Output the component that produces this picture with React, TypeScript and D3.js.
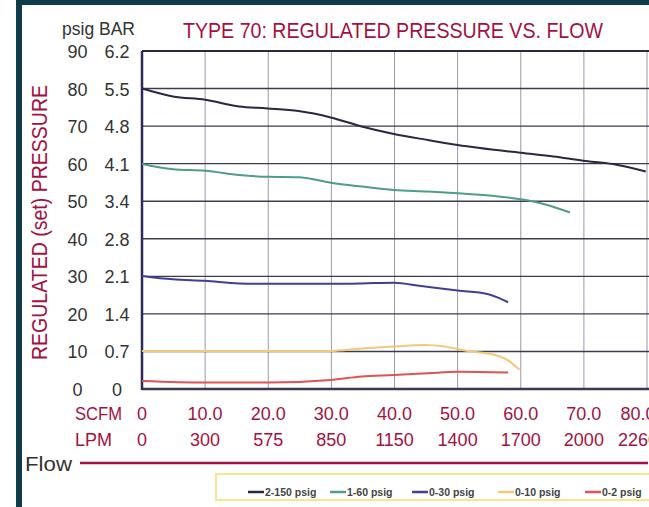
import React from 'react';
import * as d3 from 'd3';

// axis ticks
const psigTicks = [0, 10, 20, 30, 40, 50, 60, 70, 80, 90];
const barTicks = ['0', '0.7', '1.4', '2.1', '2.8', '3.4', '4.1', '4.8', '5.5', '6.2'];
const scfmTicks = [0, 10, 20, 30, 40, 50, 60, 70, 80];
const scfmLabels = ['0', '10.0', '20.0', '30.0', '40.0', '50.0', '60.0', '70.0', '80.0'];
const lpmLabels = ['0', '300', '575', '850', '1150', '1400', '1700', '2000', '2260'];

// series: [scfm, psig]
const s2150: [number, number][] = [
  [0, 80], [4.9, 77.9], [10, 77.0], [15.4, 75.2], [19.9, 74.7], [24.8, 74.0], [29.9, 72.3],
  [34.8, 69.9], [39.9, 67.9], [45.3, 66.3], [50, 65.0], [60, 62.9], [65.2, 61.9],
  [69.9, 60.8], [74.6, 59.9], [79.8, 57.9],
];
const s160: [number, number][] = [
  [0, 59.9], [4.9, 58.5], [10, 58.1], [15.4, 57.0], [19.9, 56.5], [24.8, 56.4], [29.9, 54.9],
  [34.8, 53.9], [39.9, 53.0], [45.3, 52.6], [50, 52.1], [55.8, 51.4], [60, 50.5],
  [64.2, 49.0], [67.8, 47.0],
];
const s030: [number, number][] = [
  [0, 30.1], [4.9, 29.2], [10, 28.8], [15.4, 28.1], [19.9, 28.0], [29.9, 28.0], [34.8, 28.1],
  [39.9, 28.3], [44.2, 27.4], [50, 26.2], [54.7, 25.3], [56.3, 24.4], [58.0, 23.1],
];
const s010: [number, number][] = [
  [0, 10.1], [29.9, 10.1], [34.8, 10.8], [39.9, 11.3], [44.8, 11.7], [47.9, 11.3],
  [51.6, 10.1], [55.8, 9.1], [58.1, 7.5], [59.8, 5.1],
];
const s02: [number, number][] = [
  [0, 2.1], [10, 1.7], [19.9, 1.7], [29.9, 2.4], [34.8, 3.3], [39.9, 3.7], [45.3, 4.2],
  [50, 4.6], [58.0, 4.4],
];

const seriesNames = ['2-150 psig', '1-60 psig', '0-30 psig', '0-10 psig', '0-2 psig'];
const seriesData = [s2150, s160, s030, s010, s02];
const seriesColors = ['#2b2642', '#4f9c8c', '#3f3f98', '#f2c87a', '#e25252'];

const crimson = '#a3123f';
const font = '"Liberation Sans", Arial, sans-serif';

export default function App() {
  const x = d3.scaleLinear().domain([0, 80]).range([142, 647]);
  const y = d3.scaleLinear().domain([0, 90]).range([389, 51]);
  const line = d3
    .line<[number, number]>()
    .x(d => x(d[0]))
    .y(d => y(d[1]))
    .curve(d3.curveMonotoneX);

  const legendX = [248, 330, 412, 498, 585];
  const last = scfmTicks.length - 1;

  return (
    <svg width={649} height={507} style={{ position: 'absolute', left: 0, top: 0, background: '#fff' }}>
      {/* frame */}
      <rect x={16} y={0} width={640} height={5} fill="#0f3c48" />
      <rect x={16} y={0} width={6} height={507} fill="#0f3c48" />

      <text x={183} y={38} fill={crimson} fontFamily={font} fontSize={22}
        textLength={420} lengthAdjust="spacingAndGlyphs">
        TYPE 70: REGULATED PRESSURE VS. FLOW
      </text>
      <text x={62} y={35} fill="#333" fontFamily={font} fontSize={19}
        textLength={73} lengthAdjust="spacingAndGlyphs">
        psig BAR
      </text>
      <text
        transform={`translate(47,${360}) rotate(-90)`}
        fill={crimson}
        fontFamily={font}
        fontSize={22}
        textLength={275}
        lengthAdjust="spacingAndGlyphs"
      >
        REGULATED (set) PRESSURE
      </text>

      {/* vertical grid */}
      {scfmTicks.slice(1).map(t => (
        <line key={'v' + t} x1={x(t)} x2={x(t)} y1={y(90)} y2={y(0)} stroke="#a195ad" strokeWidth={1} />
      ))}
      {/* horizontal grid */}
      {psigTicks.slice(1, -1).map(t => (
        <line key={'h' + t} x1={x(0)} x2={649} y1={y(t)} y2={y(t)} stroke="#3d3a52" strokeWidth={1.4} />
      ))}
      <line x1={x(0)} x2={649} y1={y(90)} y2={y(90)} stroke="#2b2642" strokeWidth={2} />
      <line x1={x(0)} x2={649} y1={y(0)} y2={y(0)} stroke="#3a3852" strokeWidth={2.5} />
      <line x1={x(0)} x2={x(0)} y1={y(90)} y2={y(0) + 1} stroke="#2b2b5a" strokeWidth={2.5} />

      {/* y tick labels */}
      {psigTicks.map((t, i) => (
        <g key={'yl' + t} fontFamily={font} fontSize={18} fill="#333" textAnchor="middle">
          <text x={77.5} y={y(t) + 7}>{t}</text>
          <text x={117} y={y(t) + 7}>{barTicks[i]}</text>
        </g>
      ))}

      {/* x tick labels */}
      <g fontFamily={font} fontSize={18} fill={crimson}>
        <text x={75} y={420} textLength={47} lengthAdjust="spacingAndGlyphs">SCFM</text>
        <text x={75} y={446} textLength={37} lengthAdjust="spacingAndGlyphs">LPM</text>
        {scfmTicks.map((t, i) => (
          <g key={'xl' + t} textAnchor="middle">
            <text x={x(t) - (i === last ? 9 : 0)} y={420}>{scfmLabels[i]}</text>
            <text x={x(t) - (i === last ? 9 : 0)} y={446}>{lpmLabels[i]}</text>
          </g>
        ))}
      </g>

      {/* series */}
      {seriesData.map((d, i) => (
        <path key={seriesNames[i]} d={line(d) || ''} fill="none" stroke={seriesColors[i]} strokeWidth={2} />
      ))}

      {/* flow */}
      <text x={25} y={471} fontFamily={font} fontSize={21} fill="#333"
        textLength={47} lengthAdjust="spacingAndGlyphs">Flow</text>
      <line x1={80} x2={648} y1={463} y2={463} stroke={crimson} strokeWidth={2.5} />

      {/* legend */}
      <rect x={216} y={474} width={440} height={26} fill="#fff" stroke="#f8e68e" strokeWidth={2} />
      {seriesNames.map((n, i) => (
        <g key={'lg' + n} transform={`translate(${legendX[i]},492)`}>
          <line x1={0} x2={16} y1={0} y2={0} stroke={seriesColors[i]} strokeWidth={2.5} />
          <text x={17} y={3.5} fontFamily={font} fontSize={10.5} fill="#444" fontWeight="bold">
            {n}
          </text>
        </g>
      ))}
    </svg>
  );
}
